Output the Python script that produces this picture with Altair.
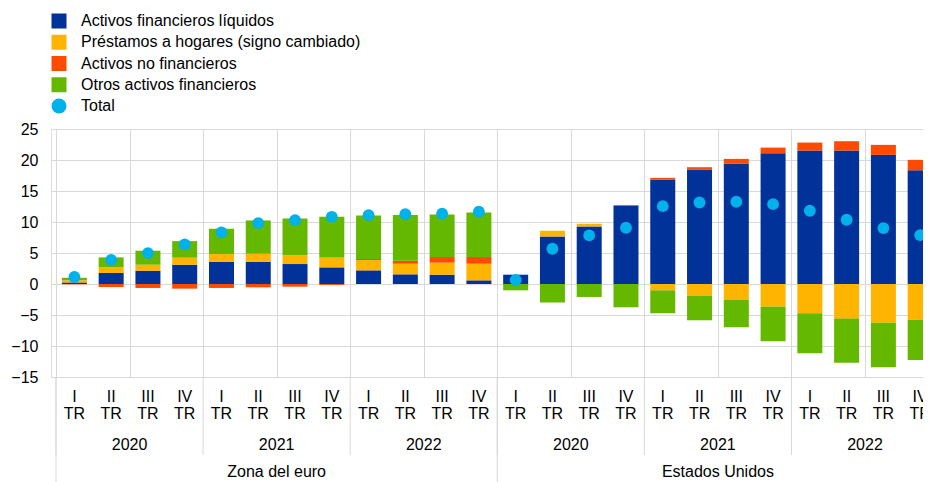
import altair as alt
import pandas as pd

# ---------------- data ----------------
regions = ["Zona del euro", "Estados Unidos"]
years = ["2020", "2021", "2022"]
quarters = ["I", "II", "III", "IV"]
quarter_suffix = "TR"

series_names = [
    "Activos financieros líquidos",
    "Préstamos a hogares (signo cambiado)",
    "Activos no financieros",
    "Otros activos financieros",
]
total_name = "Total"

ea_liquid = [0.25, 1.77, 2.15, 3.11, 3.60, 3.60, 3.22, 2.68, 2.20, 1.56, 1.50, 0.59]
ea_loans = [0.35, 0.91, 0.96, 1.13, 1.23, 1.28, 1.45, 1.61, 1.66, 1.71, 1.94, 2.68]
ea_nonfin = [-0.05, -0.48, -0.64, -0.75, -0.64, -0.54, -0.43, -0.15, 0.17, 0.49, 0.91, 1.08]
ea_other = [0.40, 1.61, 2.26, 2.68, 4.08, 5.37, 5.90, 6.55, 7.03, 7.35, 6.87, 7.19]
ea_total = [1.13, 3.90, 4.99, 6.39, 8.32, 9.82, 10.30, 10.84, 11.10, 11.27, 11.33, 11.65]

us_liquid = [1.50, 7.68, 9.29, 12.67, 16.85, 18.46, 19.43, 21.10, 21.52, 21.52, 20.83, 18.36]
us_loans = [0.0, 0.91, 0.43, 0.0, -1.02, -1.88, -2.52, -3.65, -4.72, -5.58, -6.23, -5.80]
us_nonfin = [0.0, 0.0, 0.0, 0.08, 0.27, 0.38, 0.75, 0.90, 1.29, 1.51, 1.61, 1.66]
us_other = [-1.02, -3.00, -2.09, -3.76, -3.70, -3.97, -4.46, -5.58, -6.44, -7.14, -7.19, -6.44]
us_total = [0.64, 5.69, 7.84, 9.07, 12.56, 13.15, 13.26, 12.88, 11.81, 10.36, 9.02, 7.89]

colors = ["#003299", "#ffb400", "#ff4b00", "#65b800", "#00b1ea"]

# ---------------- tables ----------------
series_data = {
    "Zona del euro": [ea_liquid, ea_loans, ea_nonfin, ea_other],
    "Estados Unidos": [us_liquid, us_loans, us_nonfin, us_other],
}
totals = {"Zona del euro": ea_total, "Estados Unidos": us_total}

bar_rows, tot_rows, q_rows = [], [], []
idx = 0
for r in regions:
    k = 0
    for y in years:
        for q in quarters:
            for s_i, s in enumerate(series_names):
                bar_rows.append({"idx": idx, "series": s, "ord": s_i,
                                 "value": series_data[r][s_i][k]})
            tot_rows.append({"idx": idx, "series": total_name, "value": totals[r][k]})
            q_rows.append({"idx": idx, "q": q, "tr": quarter_suffix, "year": y, "region": r})
            idx += 1
            k += 1
bars_df = pd.DataFrame(bar_rows)
tot_df = pd.DataFrame(tot_rows)
q_df = pd.DataFrame(q_rows)

year_df = q_df.groupby(["region", "year"], sort=False).agg(
    mid=("idx", "mean"), lo=("idx", "min"), hi=("idx", "max")).reset_index()
region_df = q_df.groupby("region", sort=False).agg(
    mid=("idx", "mean"), lo=("idx", "min"), hi=("idx", "max")).reset_index()
n = len(q_df)
year_sep = pd.DataFrame({"pos": sorted(set(list(year_df["lo"] - 0.5) + list(year_df["hi"] + 0.5)))})
region_sep = pd.DataFrame({"pos": sorted(set(list(region_df["lo"] - 0.5) + list(region_df["hi"] + 0.5)))})

# ---------------- layout ----------------
STEP = 37.2
W, H = 872, 248
FONT = "Liberation Sans"
xdom = [-0.5, -0.5 + W / STEP]
xscale = alt.Scale(domain=xdom, nice=False, zero=False)
yscale = alt.Scale(domain=[-15, 25], nice=False)
color_scale = alt.Scale(domain=series_names + [total_name], range=colors)
shape_scale = alt.Scale(domain=series_names + [total_name],
                        range=["square", "square", "square", "square", "circle"])

x_grid_axis = alt.Axis(values=[i - 0.5 for i in range(n)], grid=True, labels=False,
                       ticks=False, domain=False, title=None, gridColor="#d9d9d9")
y_axis = alt.Axis(values=list(range(-15, 30, 5)), title=None, ticks=False,
                  domain=False, labelPadding=13, gridColor="#d9d9d9", labelOverlap=False,
                  labelFontSize=16, labelFont=FONT, labelColor="#000000")
legend = alt.Legend(title=None, orient="none", legendX=0, legendY=-116,
                    labelFontSize=16, labelFont=FONT, labelColor="#000000",
                    symbolSize=225, symbolStrokeWidth=0, rowPadding=5.25,
                    labelOffset=14, labelLimit=500)

bars = alt.Chart(bars_df).mark_bar(size=25).encode(
    x=alt.X("idx:Q", scale=xscale, axis=x_grid_axis),
    y=alt.Y("value:Q", scale=yscale, stack="zero", axis=y_axis),
    color=alt.Color("series:N", scale=color_scale, legend=legend),
    order=alt.Order("ord:Q", sort="ascending"),
)

dots = alt.Chart(tot_df).mark_point(filled=True, size=140, opacity=1).encode(
    x=alt.X("idx:Q", scale=xscale, axis=x_grid_axis),
    y=alt.Y("value:Q", scale=yscale, axis=y_axis),
    color=alt.Color("series:N", scale=color_scale, legend=legend),
    shape=alt.Shape("series:N", scale=shape_scale, legend=legend),
)

txt = dict(font=FONT, fontSize=16, color="#000000", align="center", baseline="middle")
q_lbl = alt.Chart(q_df).mark_text(**txt).encode(
    x=alt.X("idx:Q", scale=xscale), y=alt.value(268), text="q:N")
tr_lbl = alt.Chart(q_df).mark_text(**txt).encode(
    x=alt.X("idx:Q", scale=xscale), y=alt.value(285), text="tr:N")
yr_lbl = alt.Chart(year_df).mark_text(**txt).encode(
    x=alt.X("mid:Q", scale=xscale), y=alt.value(316), text="year:N")
rg_lbl = alt.Chart(region_df).mark_text(**txt).encode(
    x=alt.X("mid:Q", scale=xscale), y=alt.value(343), text="region:N")

yr_rules = alt.Chart(year_sep).mark_rule(color="#d9d9d9", strokeWidth=1).encode(
    x=alt.X("pos:Q", scale=xscale), y=alt.value(H), y2=alt.value(326))
rg_rules = alt.Chart(region_sep).mark_rule(color="#d9d9d9", strokeWidth=1).encode(
    x=alt.X("pos:Q", scale=xscale), y=alt.value(H), y2=alt.value(360))

chart = alt.layer(
    bars, yr_rules, rg_rules, dots, q_lbl, tr_lbl, yr_lbl, rg_lbl
).resolve_scale(color="shared").properties(
    width=W, height=H,
    autosize=alt.AutoSizeParams(type="none"),
    padding={"left": 43, "top": 121, "right": 0, "bottom": 105},
).configure_view(stroke=None).configure(font=FONT)

chart.save("out.html", embed_options={"renderer": "svg", "actions": False})
